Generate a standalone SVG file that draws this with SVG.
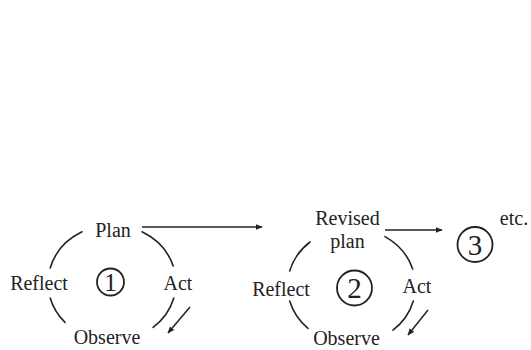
<svg xmlns="http://www.w3.org/2000/svg" width="531" height="350" viewBox="0 0 531 350">
<defs>
<style>
.t{font-family:"Liberation Serif","Times New Roman",serif;font-size:20px;fill:#222;text-anchor:middle}
.d{font-family:"Liberation Serif","Times New Roman",serif;fill:#222;text-anchor:middle}
.arc{fill:none;stroke:#222;stroke-width:1.6;stroke-linecap:round}
.ln{fill:none;stroke:#222;stroke-width:1.5}
.num{fill:none;stroke:#222;stroke-width:1.8}
</style>
<marker id="ah" viewBox="0 0 10 10" refX="9" refY="5" markerWidth="7" markerHeight="7" markerUnits="userSpaceOnUse" orient="auto">
<path d="M0,1 L10,5 L0,9 Z" fill="#222"/>
</marker>
</defs>
<rect width="531" height="350" fill="#fff"/>
<g id="cycle1">
<g id="c1-arcs">
<path class="arc" d="M50.2,268 A64,58 0 0 1 82,231.8"/>
<path class="arc" d="M65,322.4 A64,58 0 0 1 50.2,298"/>
<path class="arc" d="M142,231.8 A64,58 0 0 1 173.2,266"/>
<path class="arc" d="M173.8,298 A64,58 0 0 1 153.1,327.4"/>
</g>
<g id="plan1"><text class="t" x="113" y="237">Plan</text></g>
<g id="reflect1"><text class="t" x="39" y="290">Reflect</text></g>
<g id="act1"><text class="t" x="178" y="290">Act</text></g>
<g id="observe1"><text class="t" x="107" y="344">Observe</text></g>
<g id="num1"><circle class="num" cx="110.5" cy="282" r="13.5"/><text class="d" x="110.5" y="290.5" font-size="25">1</text></g>
</g>
<g id="cycle2">
<g id="c2-arcs">
<path class="arc" d="M289.7,271 A64,58 0 0 1 310,242"/>
<path class="arc" d="M308,328.4 A64,58 0 0 1 289.7,301"/>
<path class="arc" d="M385,236.6 A64,58 0 0 1 412.7,269"/>
<path class="arc" d="M413.3,301 A64,58 0 0 1 393,330.2"/>
</g>
<g id="revised"><text class="t" x="347.5" y="225">Revised</text><text class="t" x="347.5" y="248">plan</text></g>
<g id="reflect2"><text class="t" x="281" y="296">Reflect</text></g>
<g id="act2"><text class="t" x="417" y="293">Act</text></g>
<g id="observe2"><text class="t" x="346.5" y="345">Observe</text></g>
<g id="num2"><circle class="num" cx="354.5" cy="288" r="17.5"/><text class="d" x="354.5" y="298" font-size="29">2</text></g>
</g>
<g id="num3"><circle class="num" cx="475" cy="244.5" r="17.5"/><text class="d" x="475" y="254.5" font-size="29">3</text></g>
<g id="etc"><text class="t" x="514" y="225">etc.</text></g>
<g id="connectors">
<line class="ln" x1="142" y1="227" x2="262" y2="227" marker-end="url(#ah)"/>
<line class="ln" x1="385" y1="230" x2="442" y2="230" marker-end="url(#ah)"/>
<line class="ln" x1="190" y1="307" x2="168" y2="333" marker-end="url(#ah)"/>
<line class="ln" x1="428" y1="310" x2="408" y2="335" marker-end="url(#ah)"/>
</g>
</svg>
